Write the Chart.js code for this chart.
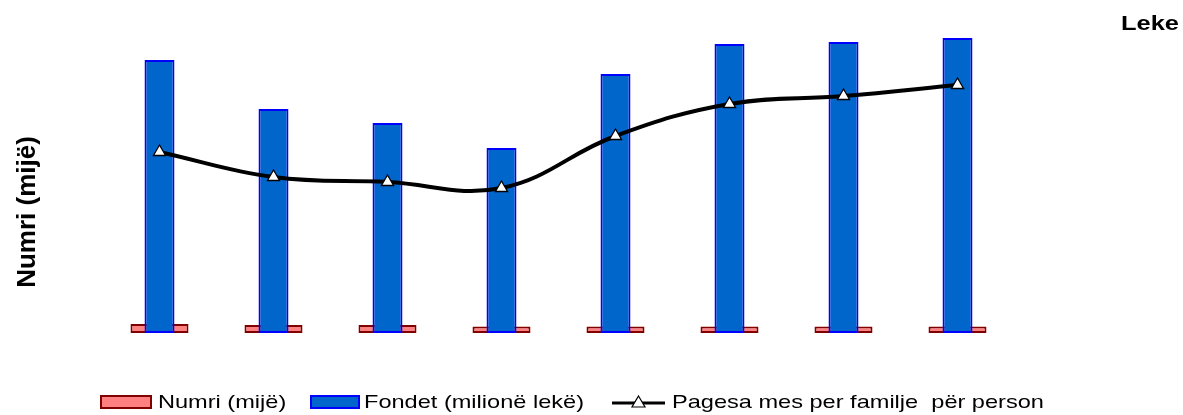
<!DOCTYPE html>
<html>
<head>
<meta charset="utf-8">
<script src="https://cdn.jsdelivr.net/npm/chart.js@4.4.0/dist/chart.umd.min.js"></script>
<style>
  html, body { margin: 0; padding: 0; background: #fff; }
  #wrap { position: relative; width: 1183px; height: 415px; }
</style>
</head>
<body>
<div id="wrap"><canvas id="chart"></canvas></div>
<script>
// categories have no visible labels in the source chart
const categories = ['1', '2', '3', '4', '5', '6', '7', '8'];

// Numri (mijë) - small red bars
const numri = [9, 8, 8, 6.5, 6.5, 6.5, 6.5, 6.5];
// Fondet (milionë lekë) - blue bars
const fondet = [273, 224, 210, 185, 259, 289, 291, 295];
// Pagesa mes per familje për person - line on right axis (Leke)
const pagesa = [181, 156, 151, 145, 197, 229, 237, 248];

const labelNumri = 'Numri (mijë)';
const labelFondet = 'Fondet (milionë lekë)';
const labelPagesa = 'Pagesa mes per familje  për person';
const yTitle = 'Numri (mijë)';
const y2Title = 'Leke';

const FONT = '"Liberation Sans", Arial, sans-serif';

// axis titles + legend drawn straight onto the chart canvas
const textPlugin = {
  id: 'texts',
  afterDraw: function(chart) {
    const ctx = chart.ctx;
    ctx.save();
    ctx.fillStyle = '#000';
    ctx.textBaseline = 'alphabetic';

    // left axis title, rotated
    ctx.save();
    ctx.font = 'bold 26px ' + FONT;
    ctx.translate(35, 212);
    ctx.rotate(-Math.PI / 2);
    ctx.textAlign = 'center';
    ctx.fillText(yTitle, 0, 0);
    ctx.restore();

    // right axis title
    ctx.save();
    ctx.font = 'bold 20px ' + FONT;
    const lw = ctx.measureText(y2Title).width;
    ctx.translate(1121, 30);
    ctx.scale(58 / lw, 1);
    ctx.textAlign = 'left';
    ctx.fillText(y2Title, 0, 0);
    ctx.restore();

    // legend
    const ds = chart.data.datasets;
    const sx = 1.24;
    const baseY = 408;
    function legendText(txt, x) {
      ctx.save();
      ctx.font = '19px ' + FONT;
      ctx.translate(x, baseY);
      ctx.scale(sx, 1);
      ctx.textAlign = 'left';
      ctx.fillStyle = '#000';
      ctx.fillText(txt, 0, 0);
      ctx.restore();
    }
    function swatch(d, x0, x1) {
      ctx.fillStyle = d.backgroundColor;
      ctx.fillRect(x0, 395, x1 - x0, 14);
      ctx.strokeStyle = d.borderColor;
      ctx.lineWidth = 2;
      ctx.strokeRect(x0 + 1, 396, x1 - x0 - 2, 12);
    }
    const red = ds.find(d => d.label === labelNumri);
    const blue = ds.find(d => d.label === labelFondet);
    swatch(red, 100, 152);
    legendText(labelNumri, 158);
    swatch(blue, 310, 360);
    legendText(labelFondet, 364);

    // line + triangle symbol
    ctx.strokeStyle = '#000';
    ctx.lineWidth = 3;
    ctx.beginPath();
    ctx.moveTo(612, 403);
    ctx.lineTo(665, 403);
    ctx.stroke();
    ctx.beginPath();
    ctx.moveTo(638.5, 396);
    ctx.lineTo(645, 407);
    ctx.lineTo(632, 407);
    ctx.closePath();
    ctx.fillStyle = '#fff';
    ctx.fill();
    ctx.lineWidth = 1.2;
    ctx.stroke();
    legendText(labelPagesa, 672);

    ctx.restore();
  }
};

new Chart(document.getElementById('chart'), {
  type: 'bar',
  data: {
    labels: categories,
    datasets: [
      {
        type: 'line',
        label: labelPagesa,
        data: pagesa,
        yAxisID: 'y2',
        order: 0,
        borderColor: '#000000',
        borderWidth: 4,
        tension: 0.4,
        fill: false,
        pointStyle: 'triangle',
        pointRadius: 7,
        pointHoverRadius: 7,
        pointBackgroundColor: '#ffffff',
        pointBorderColor: '#000000',
        pointBorderWidth: 1.3
      },
      {
        label: labelFondet,
        data: fondet,
        yAxisID: 'y',
        order: 1,
        grouped: false,
        categoryPercentage: 1,
        barPercentage: 0.263,
        backgroundColor: '#0066CC',
        borderColor: '#0000FF',
        borderWidth: 2,
        borderSkipped: false
      },
      {
        label: labelNumri,
        data: numri,
        yAxisID: 'y',
        order: 2,
        grouped: false,
        categoryPercentage: 1,
        barPercentage: 0.509,
        backgroundColor: '#FF8080',
        borderColor: '#800000',
        borderWidth: 2,
        borderSkipped: false
      }
    ]
  },
  options: {
    responsive: true,
    maintainAspectRatio: false,
    animation: false,
    layout: { padding: { left: 102.5, right: 168.5, top: 33, bottom: 82 } },
    plugins: {
      legend: { display: false },
      tooltip: { enabled: true }
    },
    scales: {
      x: { display: false, offset: true, grid: { display: false } },
      y: { display: false, min: 0, max: 300 },
      y2: { display: false, position: 'right', min: 0, max: 300 }
    }
  },
  plugins: [textPlugin]
});
</script>
</body>
</html>
